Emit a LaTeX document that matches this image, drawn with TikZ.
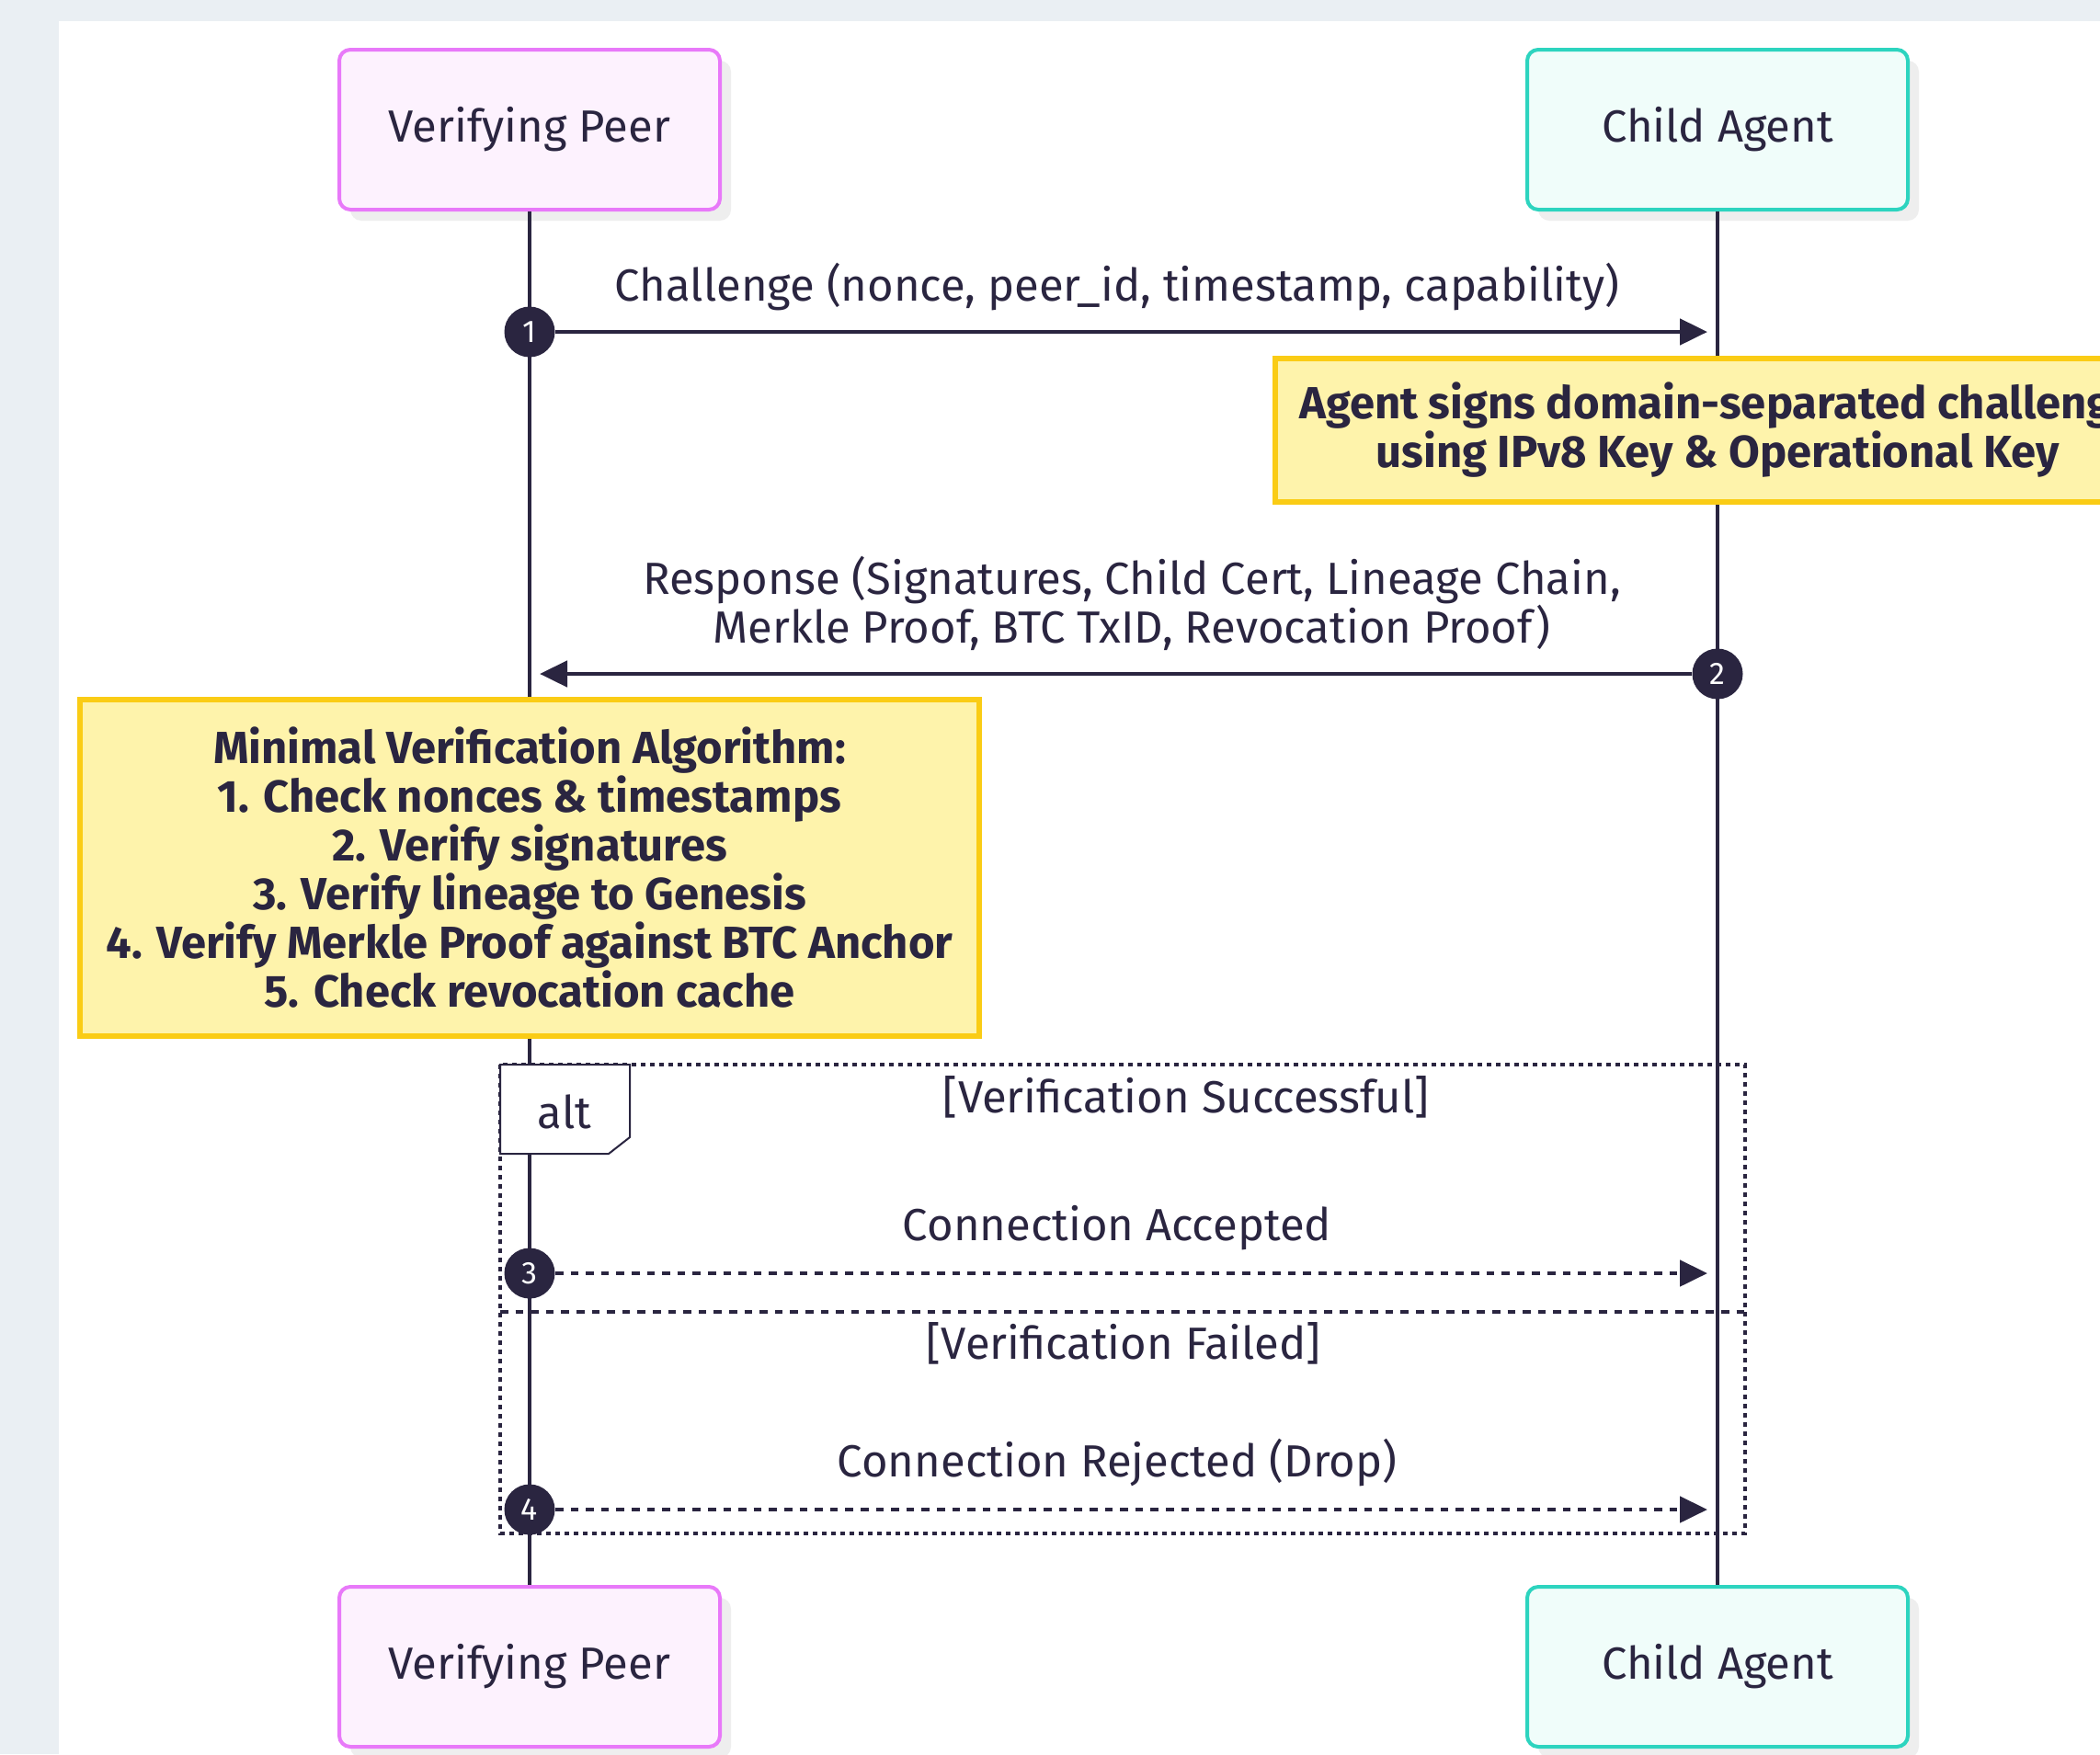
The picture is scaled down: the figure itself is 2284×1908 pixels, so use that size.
\documentclass[tikz,border=0pt]{standalone}
\usepackage{fontspec}
\setmainfont{Fira Sans}
\usetikzlibrary{arrows.meta, positioning, shadows}
\definecolor{ink}{HTML}{2A2540}
\definecolor{pagebg}{HTML}{EAEFF3}
\definecolor{peerline}{HTML}{E879F9}
\definecolor{peerfill}{HTML}{FDF2FE}
\definecolor{agentline}{HTML}{2DD4BF}
\definecolor{agentfill}{HTML}{F0FDFA}
\definecolor{noteline}{HTML}{FACC15}
\definecolor{notefill}{HTML}{FEF3AB}
\definecolor{shade}{HTML}{EEEEEE}

\begin{document}
\begin{tikzpicture}[x=0.5pt,y=-0.5pt,font=\fontsize{24.5}{26.5}\selectfont,text=ink,
    actor/.style={draw,rounded corners=6pt,line width=2pt,minimum width=207pt,minimum height=87pt,
      drop shadow={shadow xshift=6pt,shadow yshift=-6pt,fill=shade,opacity=1}},
    note/.style={draw=noteline,fill=notefill,line width=3pt,align=center,inner sep=0pt,
      font=\fontsize{24.5}{26.5}\selectfont\bfseries},
    life/.style={ink,line width=2.2pt},
    msg/.style={ink,line width=2.4pt,-{Triangle[length=15pt,width=14pt]}},
    reply/.style={msg,dash pattern=on 4.3pt off 4pt},
    num/.style={circle,fill=ink,text=white,minimum size=27.5pt,inner sep=0pt,font=\fontsize{17}{17}\selectfont},
    lbl/.style={inner sep=0pt,align=center},
    frame/.style={ink,line width=2pt,dash pattern=on 2.5pt off 2.5pt}]
    \useasboundingbox (0,0) rectangle (2284,1908);
    \clip (0,0) rectangle (2284,1908);
    \fill[pagebg] (0,0) rectangle (2284,1908);
    \fill[white] (64,23) rectangle (2284,1908);
    % participants
    \node[actor,draw=peerline,fill=peerfill](vpTop) at (576,141){Verifying Peer};
    \node[actor,draw=agentline,fill=agentfill](caTop) at (1868,141){Child Agent};
    \node[actor,draw=peerline,fill=peerfill](vpBot) at (576,1813){Verifying Peer};
    \node[actor,draw=agentline,fill=agentfill](caBot) at (1868,1813){Child Agent};
    \draw[life](vpTop)--(vpBot);
    \draw[life](caTop)--(caBot);
    % messages
    \node[num](n1) at (576,361){1};
    \coordinate(m1end) at (1857,361);
    \draw[msg](n1)--(m1end);
    \node[lbl](m1lbl) at (1215,312){Challenge (nonce, peer\_id, timestamp, capability)};
    \node[note,minimum width=481pt,minimum height=78pt](signNote) at (1868,468)
      {Agent signs domain-separated challenge\\using IPv8 Key \& Operational Key};
    \node[num](n2) at (1868,733){2};
    \coordinate(m2end) at (587,733);
    \draw[msg](n2)--(m2end);
    \node[lbl](m2lbl) at (1231,656){Response (Signatures, Child Cert, Lineage Chain,\\Merkle Proof, BTC TxID, Revocation Proof)};
    \node[note,minimum width=489pt,minimum height=183pt](algoNote) at (576,944)
      {Minimal Verification Algorithm:\\1. Check nonces \& timestamps\\2. Verify signatures\\3. Verify lineage to Genesis\\4. Verify Merkle Proof against BTC Anchor\\5. Check revocation cache};
    % alt block
    \draw[frame](544,1158) rectangle (1898,1668);
    \draw[frame,dash pattern=on 4.3pt off 4pt,line width=2.2pt](544,1427)--(1898,1427);
    \draw[ink,line width=1pt,fill=white](544,1158)--(685,1158)--(685,1237)--(662,1255)--(544,1255)--cycle;
    \node[lbl](altTag) at (614,1209){alt};
    \node[lbl](okGuard) at (1290,1193){[Verification Successful]};
    \node[lbl](failGuard) at (1222,1461){[Verification Failed]};
    \node[num](n3) at (576,1385){3};
    \coordinate(m3end) at (1857,1385);
    \draw[reply](n3)--(m3end);
    \node[lbl](m3lbl) at (1215,1336){Connection Accepted};
    \node[num](n4) at (576,1642){4};
    \coordinate(m4end) at (1857,1642);
    \draw[reply](n4)--(m4end);
    \node[lbl](m4lbl) at (1215,1591){Connection Rejected (Drop)};
\end{tikzpicture}
\end{document}
